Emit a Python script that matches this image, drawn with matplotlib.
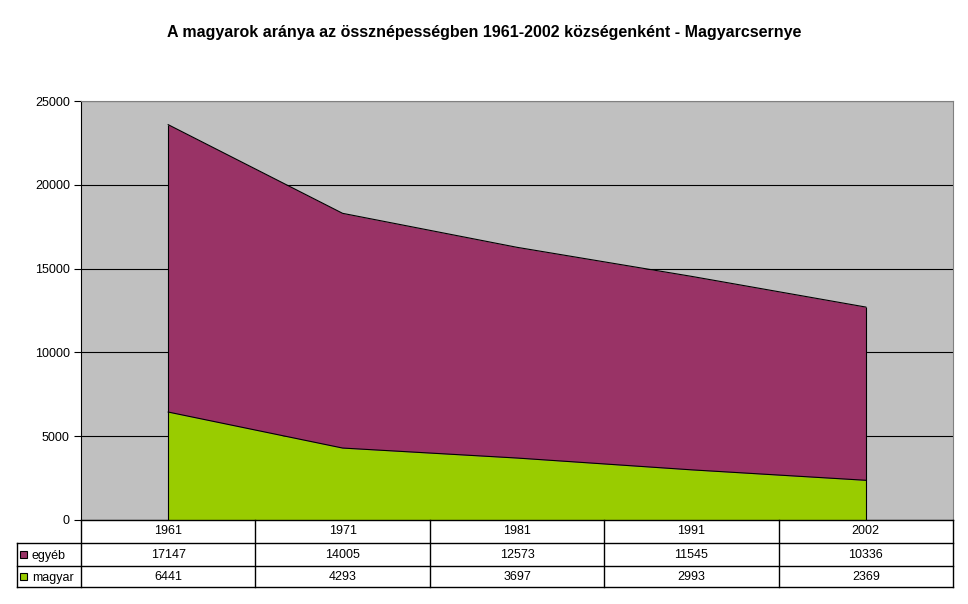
import matplotlib
matplotlib.use("Agg")
import matplotlib.pyplot as plt
from matplotlib.patches import Rectangle

plt.rcParams['font.family'] = ['Liberation Sans', 'DejaVu Sans']

evek = ["1961", "1971", "1981", "1991", "2002"]
egyeb = [17147, 14005, 12573, 11545, 10336]
magyar = [6441, 4293, 3697, 2993, 2369]
sorok = ["egyéb", "magyar"]

lila = "#993366"
zold = "#99CC00"
szurke = "#C0C0C0"

W, H = 968, 604
fig = plt.figure(figsize=(W / 100, H / 100), dpi=100)

# pixel layout
bal, jobb, fent, lent = 81, 953, 101, 520
ax = fig.add_axes([bal / W, 1 - lent / H, (jobb - bal) / W, (lent - fent) / H])
ax.set_facecolor(szurke)

x = list(range(len(evek)))
felso = [m + e for m, e in zip(magyar, egyeb)]
ax.fill_between(x, 0, magyar, color=zold, linewidth=0, zorder=2)
ax.fill_between(x, magyar, felso, color=lila, linewidth=0, zorder=2)
ax.plot(x, magyar, color="black", linewidth=0.8, zorder=3)
ax.plot(x, felso, color="black", linewidth=0.8, zorder=3)
ax.vlines([x[0], x[-1]], 0, felso[0:1] + felso[-1:], color="black", linewidth=0.8, zorder=3)

ax.set_xlim(-0.5, len(evek) - 0.5)
ax.set_ylim(0, 25000)
ax.set_yticks(range(0, 25001, 5000))
ax.yaxis.grid(True, color="black", linewidth=0.8, zorder=1)
ax.set_axisbelow(True)
ax.set_xticks([])
ax.tick_params(axis="y", direction="out", length=5, width=0.8, labelsize=9, pad=3)
for s in ["top", "right"]:
    ax.spines[s].set_color("#808080")
    ax.spines[s].set_linewidth(0.8)
ax.spines["left"].set_linewidth(0.8)
ax.spines["bottom"].set_visible(False)

fig.text(0.5, 1 - 32 / H, "A magyarok aránya az össznépességben 1961-2002 községenként - Magyarcsernye",
         ha="center", va="center", fontsize=11.5, fontweight="bold")

# data table below the plot
tb = fig.add_axes([0, 0, 1, 1], facecolor="none")
tb.set_xlim(0, W)
tb.set_ylim(H, 0)
tb.axis("off")

oszl = [bal + i * (jobb - bal) / len(evek) for i in range(len(evek) + 1)]
sor_y = [520, 543, 566, 587]
leg_bal = 17
lw = 1.0

tb.plot([bal, jobb], [sor_y[0]] * 2, color="black", lw=lw)
for yy in sor_y[1:]:
    tb.plot([leg_bal, jobb], [yy, yy], color="black", lw=lw)
for xx in oszl:
    tb.plot([xx, xx], [sor_y[0], sor_y[-1]], color="black", lw=lw)
tb.plot([leg_bal, leg_bal], [sor_y[1], sor_y[-1]], color="black", lw=lw)

for i, ev in enumerate(evek):
    cx = (oszl[i] + oszl[i + 1]) / 2
    tb.text(cx, (sor_y[0] + sor_y[1]) / 2, ev, ha="center", va="center", fontsize=9)
    tb.text(cx, (sor_y[1] + sor_y[2]) / 2, str(egyeb[i]), ha="center", va="center", fontsize=9)
    tb.text(cx, (sor_y[2] + sor_y[3]) / 2, str(magyar[i]), ha="center", va="center", fontsize=9)

for j, (nev, szin) in enumerate(zip(sorok, [lila, zold])):
    cy = (sor_y[j + 1] + sor_y[j + 2]) / 2
    tb.add_patch(Rectangle((19.5, cy - 3.5), 7, 7, facecolor=szin, edgecolor="black", lw=0.8))
    tb.text(32, cy, nev, ha="left", va="center_baseline", fontsize=9)

fig.savefig("out.png", dpi=100)
